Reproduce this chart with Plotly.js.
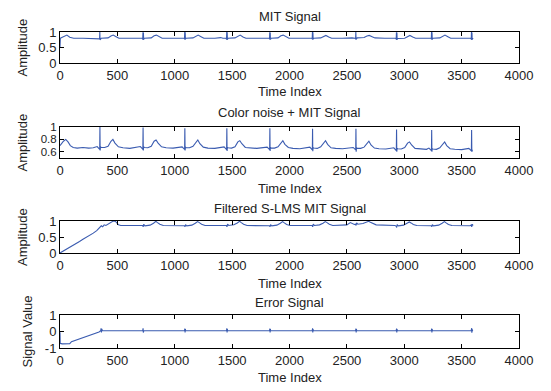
<!DOCTYPE html>
<html>
<head>
<meta charset="utf-8">
<script src="https://cdn.plot.ly/plotly-3.0.1.min.js"></script>
<style>html,body{margin:0;padding:0;background:#fff;}#chart{width:551px;height:391px;}</style>
</head>
<body>
<div id="chart"></div>
<script>
// ---- Panel 1: MIT Signal ----
var t1 = [0,3,20,45,60,85,120,200,280,
339,345,347,349,351,353,359,419,444,464,489,514,600,660,690,
715,721,723,725,727,729,735,795,820,840,865,890,980,1040,1060,
1079,1085,1087,1089,1091,1093,1099,1159,1184,1204,1229,1254,1350,1400,1420,
1445,1451,1453,1455,1457,1459,1465,1525,1550,1570,1595,1620,1720,1770,1795,
1820,1826,1828,1830,1832,1834,1840,1900,1925,1945,1970,1995,2090,2140,2170,
2192,2198,2200,2202,2204,2206,2212,2272,2297,2317,2342,2367,2460,2520,2545,
2570,2576,2578,2580,2582,2584,2590,2650,2675,2695,2720,2745,2830,2880,2900,
2924,2930,2932,2934,2936,2938,2944,3004,3029,3049,3074,3099,3150,3200,3215,
3230,3236,3238,3240,3242,3244,3250,3310,3335,3355,3380,3405,3490,3540,3560,
3578,3584,3586,3588,3590,3592,3598,3600];
var v1 = [0.52,0.80,0.83,0.89,0.90,0.83,0.80,0.80,0.80,
0.80,0.78,1.00,0.75,0.99,0.76,0.80,0.81,0.87,0.90,0.85,0.80,0.80,0.81,0.80,
0.80,0.77,0.99,0.74,0.98,0.76,0.80,0.81,0.88,0.90,0.84,0.80,0.80,0.81,0.80,
0.80,0.78,1.00,0.75,0.99,0.77,0.80,0.81,0.87,0.90,0.85,0.80,0.80,0.82,0.80,
0.80,0.77,1.00,0.74,0.99,0.76,0.80,0.81,0.87,0.90,0.84,0.80,0.80,0.81,0.80,
0.80,0.78,0.99,0.75,0.98,0.76,0.80,0.81,0.88,0.90,0.85,0.80,0.80,0.81,0.80,
0.80,0.78,1.00,0.75,0.99,0.77,0.80,0.81,0.87,0.89,0.84,0.80,0.80,0.82,0.81,
0.80,0.77,1.00,0.76,0.99,0.78,0.81,0.82,0.87,0.89,0.85,0.81,0.80,0.81,0.80,
0.80,0.77,0.99,0.74,0.98,0.76,0.79,0.80,0.86,0.89,0.84,0.80,0.80,0.81,0.80,
0.80,0.78,1.00,0.75,0.99,0.76,0.80,0.81,0.87,0.90,0.85,0.80,0.80,0.81,0.80,
0.80,0.77,1.00,0.74,0.98,0.76,0.80,0.80];

// ---- Panel 2: Color noise + MIT Signal ----
var t2 = [0,10,30,50,70,90,115,150,200,250,290,
324,337,346,348,350,353,359,389,419,444,461,479,509,549,609,
700,713,722,724,726,729,735,765,795,820,837,855,885,925,985,
1064,1077,1086,1088,1090,1093,1099,1129,1159,1184,1201,1219,1249,1289,1349,
1430,1443,1452,1454,1456,1459,1465,1495,1525,1550,1567,1585,1615,1655,1715,
1805,1818,1827,1829,1831,1834,1840,1870,1900,1925,1942,1960,1990,2030,2090,
2177,2190,2199,2201,2203,2206,2212,2242,2272,2297,2314,2332,2362,2402,2462,
2555,2568,2577,2579,2581,2584,2590,2620,2650,2675,2692,2710,2740,2780,2840,
2909,2922,2931,2933,2935,2938,2944,2974,3004,3029,3046,3064,3094,3134,3194,
3215,3228,3237,3239,3241,3244,3250,3280,3310,3335,3352,3370,3400,3440,3500,
3563,3576,3585,3587,3589,3592,3598];
var v2 = [0.70,0.73,0.77,0.80,0.76,0.70,0.67,0.66,0.67,0.66,0.665,
0.685,0.66,0.64,1.00,0.62,0.68,0.67,0.67,0.69,0.77,0.80,0.74,0.68,0.665,0.655,
0.685,0.66,0.64,0.99,0.62,0.68,0.67,0.665,0.69,0.77,0.79,0.74,0.68,0.665,0.66,
0.68,0.655,0.64,0.98,0.62,0.675,0.665,0.665,0.69,0.76,0.79,0.73,0.675,0.66,0.655,
0.68,0.655,0.635,0.98,0.615,0.67,0.665,0.66,0.68,0.76,0.78,0.73,0.67,0.66,0.655,
0.675,0.655,0.635,0.98,0.615,0.67,0.66,0.66,0.68,0.75,0.78,0.72,0.67,0.655,0.65,
0.675,0.65,0.63,0.97,0.61,0.665,0.66,0.655,0.68,0.75,0.78,0.72,0.665,0.655,0.65,
0.67,0.65,0.63,0.97,0.60,0.665,0.655,0.655,0.675,0.74,0.77,0.71,0.66,0.65,0.645,
0.665,0.645,0.62,0.96,0.60,0.655,0.65,0.645,0.67,0.74,0.76,0.71,0.655,0.645,0.64,
0.66,0.64,0.62,0.95,0.60,0.65,0.645,0.64,0.665,0.73,0.76,0.70,0.65,0.64,0.635,
0.655,0.635,0.615,0.95,0.60,0.625,0.625];

// ---- Panel 3: Filtered S-LMS MIT Signal ----
var t3 = [0,20,50,80,110,140,170,200,230,260,290,320,345,360,372,385,400,420,440,460,480,495,510,530,560,620,680,
710,720,725,730,740,785,815,835,850,870,900,
1074,1084,1089,1094,1104,1149,1179,1199,1214,1234,1264,
1440,1450,1455,1460,1470,1515,1545,1565,1580,1600,1630,
1815,1825,1830,1835,1845,1890,1920,1940,1955,1975,2005,
2187,2197,2202,2207,2217,2262,2292,2312,2327,2347,2377,
2500,2530,2550,
2565,2575,2580,2585,2595,2640,2670,2690,2705,2725,2755,
2919,2929,2934,2939,2949,2994,3024,3044,3059,3079,3109,
3225,3235,3240,3245,3255,3300,3330,3350,3365,3385,3415,
3573,3583,3588,3593,3600];
var v3 = [0.00,0.04,0.10,0.17,0.23,0.29,0.36,0.43,0.49,0.55,0.62,0.70,0.78,0.85,0.82,0.88,0.86,0.90,0.95,0.99,1.00,0.94,0.88,0.86,0.86,0.86,0.86,
0.86,0.86,0.82,0.90,0.85,0.87,0.93,0.99,0.95,0.90,0.86,
0.86,0.85,0.82,0.89,0.85,0.87,0.93,0.98,0.95,0.90,0.86,
0.86,0.86,0.82,0.90,0.86,0.88,0.94,0.99,0.95,0.90,0.86,
0.86,0.85,0.82,0.89,0.85,0.87,0.93,0.98,0.94,0.89,0.86,
0.86,0.86,0.82,0.90,0.86,0.88,0.93,0.98,0.95,0.90,0.86,
0.88,0.95,0.90,
0.89,0.90,0.86,0.94,0.90,0.92,0.96,0.99,0.96,0.92,0.88,
0.86,0.84,0.80,0.88,0.85,0.87,0.93,0.97,0.94,0.89,0.86,
0.86,0.85,0.82,0.89,0.85,0.87,0.93,0.98,0.94,0.89,0.86,
0.85,0.88,0.82,0.90,0.86];

// ---- Panel 4: Error Signal ----
var t4 = [0,2,20,85,100,150,200,250,300,340,355,358,361,364,370,
721,724,726,728,731,
1085,1088,1090,1092,1095,
1451,1454,1456,1458,1461,
1826,1829,1831,1833,1836,
2198,2201,2203,2205,2208,
2576,2579,2581,2583,2586,
2930,2933,2935,2937,2940,
3236,3239,3241,3243,3246,
3584,3587,3589,3591,3594,3600];
var v4 = [-0.05,-0.72,-0.75,-0.74,-0.62,-0.50,-0.38,-0.27,-0.15,-0.03,0.05,0.20,-0.06,0.16,0.05,
0.05,0.19,-0.06,0.15,0.05,
0.05,0.18,-0.06,0.14,0.05,
0.05,0.19,-0.06,0.15,0.05,
0.05,0.18,-0.06,0.14,0.05,
0.05,0.19,-0.06,0.15,0.05,
0.05,0.18,-0.06,0.14,0.05,
0.05,0.18,-0.06,0.15,0.05,
0.05,0.18,-0.06,0.14,0.05,
0.05,0.20,-0.07,0.16,0.05,0.05];

var titles = ['MIT Signal','Color noise + MIT Signal','Filtered S-LMS MIT Signal','Error Signal'];
var yLabels = ['Amplitude','Amplitude','Amplitude','Signal Value'];
var xLabel = 'Time Index';
var xTicks = [0,500,1000,1500,2000,2500,3000,3500,4000];
var yTicks = [[0,0.5,1],[0.6,0.8,1],[0,0.5,1],[-1,0,1]];
var yTickText = [['0','0.5','1'],['0.6','0.8','1'],['0','0.5','1'],['-1','0','1']];
var yRanges = [[0,1],[0.5,1],[0,1],[-1,1]];

var lineColor = '#3a5bb0';
var fnt = {family:'Liberation Sans, Arial, sans-serif', size:13, color:'#222'};
var fntSmall = {family:'Liberation Sans, Arial, sans-serif', size:11.5, color:'#222'};
var H = 391;
// pixel rows of each panel (top, bottom)
var rows = [[32,63],[127,158],[221,253],[315,348]];
var titleY = [17,112,208,302];
var xlabY = [91,188,283,377];
var ylabX = [22,22,22,27];

var xs = [t1,t2,t3,t4], ys = [v1,v2,v3,v4];
var data = [];
var layout = {
  width:551, height:391,
  margin:{l:60,r:32,t:0,b:0},
  paper_bgcolor:'#fff', plot_bgcolor:'#fff',
  showlegend:false,
  font:fnt,
  annotations:[]
};
for (var i=0;i<4;i++){
  var sx = i===0?'':String(i+1);
  data.push({x:xs[i], y:ys[i], type:'scatter', mode:'lines',
    line:{color:lineColor,width:1.1}, xaxis:'x'+sx, yaxis:'y'+sx, hoverinfo:'skip'});
  var ax = {domain:[0,1], range:[0,4000], anchor:'y'+sx, tickmode:'array', tickvals:xTicks,
    ticktext:xTicks.map(String), ticks:'inside', ticklen:4, tickcolor:'#000', showline:true,
    linecolor:'#000', linewidth:1, mirror:'ticks', showgrid:false, zeroline:false, tickfont:fnt};
  var ay = {domain:[1-rows[i][1]/H, 1-rows[i][0]/H], range:yRanges[i], anchor:'x'+sx,
    tickmode:'array', tickvals:yTicks[i], ticktext:yTickText[i], ticks:'inside', ticklen:4,
    tickcolor:'#000', showline:true, linecolor:'#000', linewidth:1, mirror:'ticks',
    showgrid:false, zeroline:false, tickfont:(i===1?fntSmall:fnt)};
  layout['xaxis'+sx] = ax;
  layout['yaxis'+sx] = ay;
  layout.annotations.push({text:titles[i], xref:'paper', yref:'paper', x:0.5, y:1-titleY[i]/H,
    xanchor:'center', yanchor:'middle', showarrow:false, font:fnt});
  layout.annotations.push({text:xLabel, xref:'paper', yref:'paper', x:0.5, y:1-xlabY[i]/H,
    xanchor:'center', yanchor:'middle', showarrow:false, font:fnt});
  layout.annotations.push({text:yLabels[i], xref:'paper', yref:'paper', x:(ylabX[i]-60)/459,
    y:1-(rows[i][0]+rows[i][1])/2/H, xanchor:'center', yanchor:'middle', textangle:-90,
    showarrow:false, font:fnt});
}
Plotly.newPlot('chart', data, layout, {displayModeBar:false, staticPlot:true});
</script>
</body>
</html>
